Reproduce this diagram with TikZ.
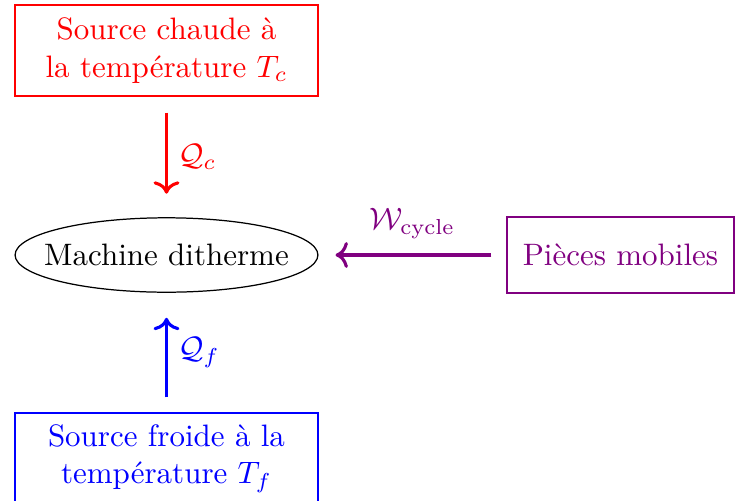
\documentclass[tikz,border=0pt]{standalone}
\usetikzlibrary{shapes.geometric,arrows.meta}
\begin{document}
\begin{tikzpicture}[x=0.3226pt,y=-0.3226pt,
  srcbox/.style={draw, rectangle, align=center, minimum width=97.7pt, minimum height=29.4pt, inner sep=2pt},
  machbox/.style={draw, ellipse, minimum width=97.7pt, minimum height=24pt, inner sep=0pt},
  partbox/.style={draw, rectangle, align=center, minimum width=73.2pt, minimum height=24.5pt, inner sep=2pt},
  flow/.style={-{To[scale=1.05]}, line width=1pt}]
\useasboundingbox (0,0) rectangle (737,501);
\node[srcbox, red] (hot) at (166.5,50.5) {Source chaude à\\la température $T_c$};
\node[machbox] (mach) at (166.5,255) {\makebox[0pt]{Machine ditherme}};
\node[partbox, violet] (parts) at (620.5,255) {Pièces mobiles};
\node[srcbox, blue] (cold) at (166.5,458.5) {Source froide à la\\température $T_f$};
\draw[flow, red, shorten <=5.16pt, shorten >=7.58pt] (hot.south) -- node[right] {$\mathcal{Q}_c$} (mach.north);
\draw[flow, blue, shorten <=4.84pt, shorten >=8.07pt] (cold.north) -- node[right] {$\mathcal{Q}_f$} (mach.south);
\draw[flow, violet, shorten <=4.84pt, shorten >=5.48pt] (parts.west) -- node[above, yshift=1.5pt] {$\mathcal{W}_{\mathrm{cycle}}$} (mach.east);
\end{tikzpicture}
\end{document}
